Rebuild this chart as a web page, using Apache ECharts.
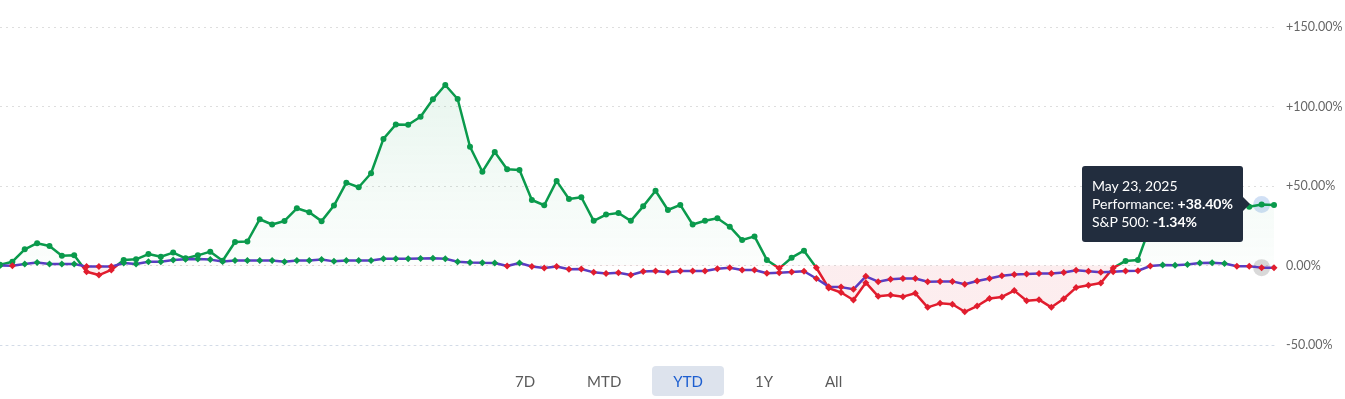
<!DOCTYPE html>
<html>
<head>
<meta charset="utf-8">
<title>Performance vs S&amp;P 500</title>
<script src="https://cdn.jsdelivr.net/npm/echarts@6/dist/echarts.min.js"></script>
<style>
  body { margin: 0; background: #fff; font-family: Lato, "Noto Sans", sans-serif; }
  .wrap { position: relative; width: 1345px; height: 399px; overflow: hidden; }
  #chart { position: absolute; left: 0; top: 0; width: 1345px; height: 399px; }
  .ranges { position: absolute; left: 494px; top: 366px; display: flex; gap: 10px; z-index: 5; }
  .ranges span {
    height: 30px; line-height: 30px; padding: 0 21px;
    font-size: 15px; color: #5a5a5a; border-radius: 4px;
  }
  .ranges .active { background: #dde3ed; color: #1c5ed0; }
  .tip-arrow {
    position: absolute; right: -7px; top: 50%; margin-top: -7px;
    width: 0; height: 0; border-style: solid;
    border-width: 7px 0 7px 7px; border-color: transparent transparent transparent #222d3e;
  }
</style>
</head>
<body>
<div class="wrap">
  <div id="chart"></div>
  <div class="ranges" id="ranges"></div>
</div>
<script>
// performance of the holding, % since start of year (one point per session)
const perf = [
  0.5, 2.4, 10.2, 14.0, 12.3, 6.2, 6.4, -3.9, -6.0, -2.8,
  3.5, 3.9, 7.2, 5.5, 8.1, 4.5, 6.4, 8.7, 3.0, 14.8,
  15.1, 29.1, 25.8, 28.0, 36.0, 33.5, 27.9, 37.7, 52.1, 49.2,
  58.0, 79.6, 88.7, 88.5, 93.6, 104.5, 113.5, 104.7, 74.7, 59.0,
  71.4, 60.6, 60.1, 41.2, 37.9, 53.2, 41.8, 42.9, 28.1, 32.0,
  33.0, 28.1, 37.2, 47.0, 34.9, 38.1, 25.8, 28.1, 29.7, 24.4,
  16.0, 18.3, 3.5, -1.8, 4.9, 9.3, -1.4, -14.2, -17.0, -21.7,
  -10.8, -19.4, -18.6, -19.6, -17.5, -26.3, -23.8, -24.4, -29.1, -25.5,
  -20.7, -19.8, -15.8, -22.2, -21.5, -26.3, -20.9, -13.9, -12.4, -11.0,
  -1.5, 2.9, 3.5, 25.0, 31.0, 35.0, 33.0, 36.0, 39.0, 37.0,
  39.0, 37.0, 38.4, 38.1
];

// S&P 500, % since start of year
const sp500 = [
  0.0, -0.2, 0.9, 1.9, 0.9, 0.9, 0.9, -0.7, -0.7, -0.7,
  1.6, 1.0, 2.4, 2.4, 3.4, 3.9, 4.1, 3.7, 2.5, 3.1,
  3.1, 3.1, 3.1, 2.4, 3.1, 3.1, 3.8, 2.6, 3.1, 3.1,
  3.1, 4.2, 4.2, 4.2, 4.4, 4.6, 4.2, 2.4, 1.9, 1.7,
  1.6, -0.3, 1.6, -0.6, -1.6, -0.6, -2.3, -2.2, -4.3, -5.0,
  -4.6, -6.0, -3.8, -3.4, -4.3, -3.5, -3.5, -3.5, -2.0, -1.4,
  -2.8, -2.8, -4.9, -4.5, -4.1, -3.6, -8.2, -13.4, -13.6, -15.0,
  -6.8, -10.2, -8.7, -8.1, -8.2, -10.2, -10.0, -10.0, -11.8, -9.8,
  -8.2, -6.5, -5.7, -5.4, -5.0, -5.0, -4.4, -3.0, -3.6, -4.3,
  -4.0, -3.4, -3.3, -0.3, 0.3, 0.2, 0.7, 1.6, 1.8, 1.2,
  -0.5, -0.5, -1.34, -1.4
];

const sessions = perf.map((_, i) => i);
const yMin = -50;
const yMax = 150;
const yStep = 50;
const rangeLabels = ['7D', 'MTD', 'YTD', '1Y', 'All'];
const activeRange = 'YTD';
const tipIndex = 102;
const tipDate = 'May 23, 2025';

const GREEN = '#0a9a4c';
const RED = '#e11d2e';
const PURPLE = '#5a3dc2';

const pct = (v) => (v > 0 ? '+' : '') + v.toFixed(2) + '%';

// range buttons under the chart
document.getElementById('ranges').innerHTML = rangeLabels
  .map(r => '<span' + (r === activeRange ? ' class="active"' : '') + '>' + r + '</span>')
  .join('');

const pMax = Math.max(...perf);
const pMin = Math.min(...perf);
const zeroAt = pMax / (pMax - pMin);

const chart = echarts.init(document.getElementById('chart'));

const option = {
  animation: false,
  textStyle: { fontFamily: 'Lato, "Noto Sans", sans-serif' },
  grid: { left: 0, right: 71, top: 27, bottom: 54, outerBoundsMode: 'none', containLabel: false },
  tooltip: {
    trigger: 'item',
    triggerOn: 'none',
    alwaysShowContent: true,
    position: 'left',
    transitionDuration: 0,
    backgroundColor: '#222d3e',
    borderColor: '#222d3e',
    borderWidth: 0,
    borderRadius: 3,
    padding: [11, 10],
    textStyle: { color: '#fff', fontSize: 14, fontFamily: 'Lato, "Noto Sans", sans-serif', lineHeight: 18 },
    extraCssText: 'box-shadow:none;margin-left:-8px;line-height:18px;',
    formatter: () =>
      tipDate + '<br>Performance: <b>' + pct(perf[tipIndex]) + '</b>' +
      '<br>S&amp;P 500: <b>' + pct(sp500[tipIndex]) + '</b>' +
      '<span class="tip-arrow"></span>'
  },
  visualMap: {
    show: false,
    type: 'piecewise',
    seriesIndex: 0,
    dimension: 1,
    pieces: [
      { gte: yMin, lt: 0, color: RED },
      { gte: 0, lte: yMax, color: GREEN }
    ]
  },
  xAxis: {
    type: 'category',
    data: sessions,
    boundaryGap: false,
    axisLine: { show: true, onZero: false, lineStyle: { color: '#d3dbe7', type: [2, 4], width: 1 } },
    axisTick: { show: false },
    axisLabel: { show: false },
    splitLine: { show: false }
  },
  yAxis: {
    type: 'value',
    position: 'right',
    min: yMin,
    max: yMax,
    interval: yStep,
    axisLine: { show: false },
    axisTick: { show: false },
    axisLabel: { margin: 12, color: '#666', fontSize: 12.5, formatter: (v) => pct(v) },
    splitLine: { lineStyle: { color: '#dedede', type: [2, 4], width: 1 } }
  },
  series: [
    {
      name: 'Performance',
      type: 'line',
      data: perf,
      z: 3,
      symbol: (v) => (v < 0 ? 'diamond' : 'circle'),
      symbolSize: (v) => (v < 0 ? 7 : 6),
      lineStyle: { width: 2.5 },
      areaStyle: {
        color: new echarts.graphic.LinearGradient(0, 0, 0, 1, [
          { offset: 0, color: 'rgba(10,154,76,0.13)' },
          { offset: zeroAt, color: 'rgba(10,154,76,0.02)' },
          { offset: zeroAt, color: 'rgba(225,29,46,0.11)' },
          { offset: 1, color: 'rgba(225,29,46,0.11)' }
        ])
      },
      emphasis: { disabled: true }
    },
    {
      name: 'S&P 500',
      type: 'line',
      data: sp500,
      z: 4,
      symbol: 'diamond',
      symbolSize: 7,
      lineStyle: { color: PURPLE, width: 2.5 },
      itemStyle: { color: (p) => (p.value < 0 ? RED : GREEN) },
      emphasis: { disabled: true }
    },
    {
      // hover halos on the selected session
      type: 'scatter',
      data: [[tipIndex, perf[tipIndex]], [tipIndex, sp500[tipIndex]]],
      symbolSize: 17,
      z: 2,
      silent: true,
      itemStyle: { color: (p) => (p.dataIndex === 0 ? 'rgba(90,145,220,0.35)' : 'rgba(120,120,120,0.35)') }
    }
  ]
};

chart.setOption(option);
chart.dispatchAction({ type: 'showTip', seriesIndex: 0, dataIndex: tipIndex });
</script>
</body>
</html>
